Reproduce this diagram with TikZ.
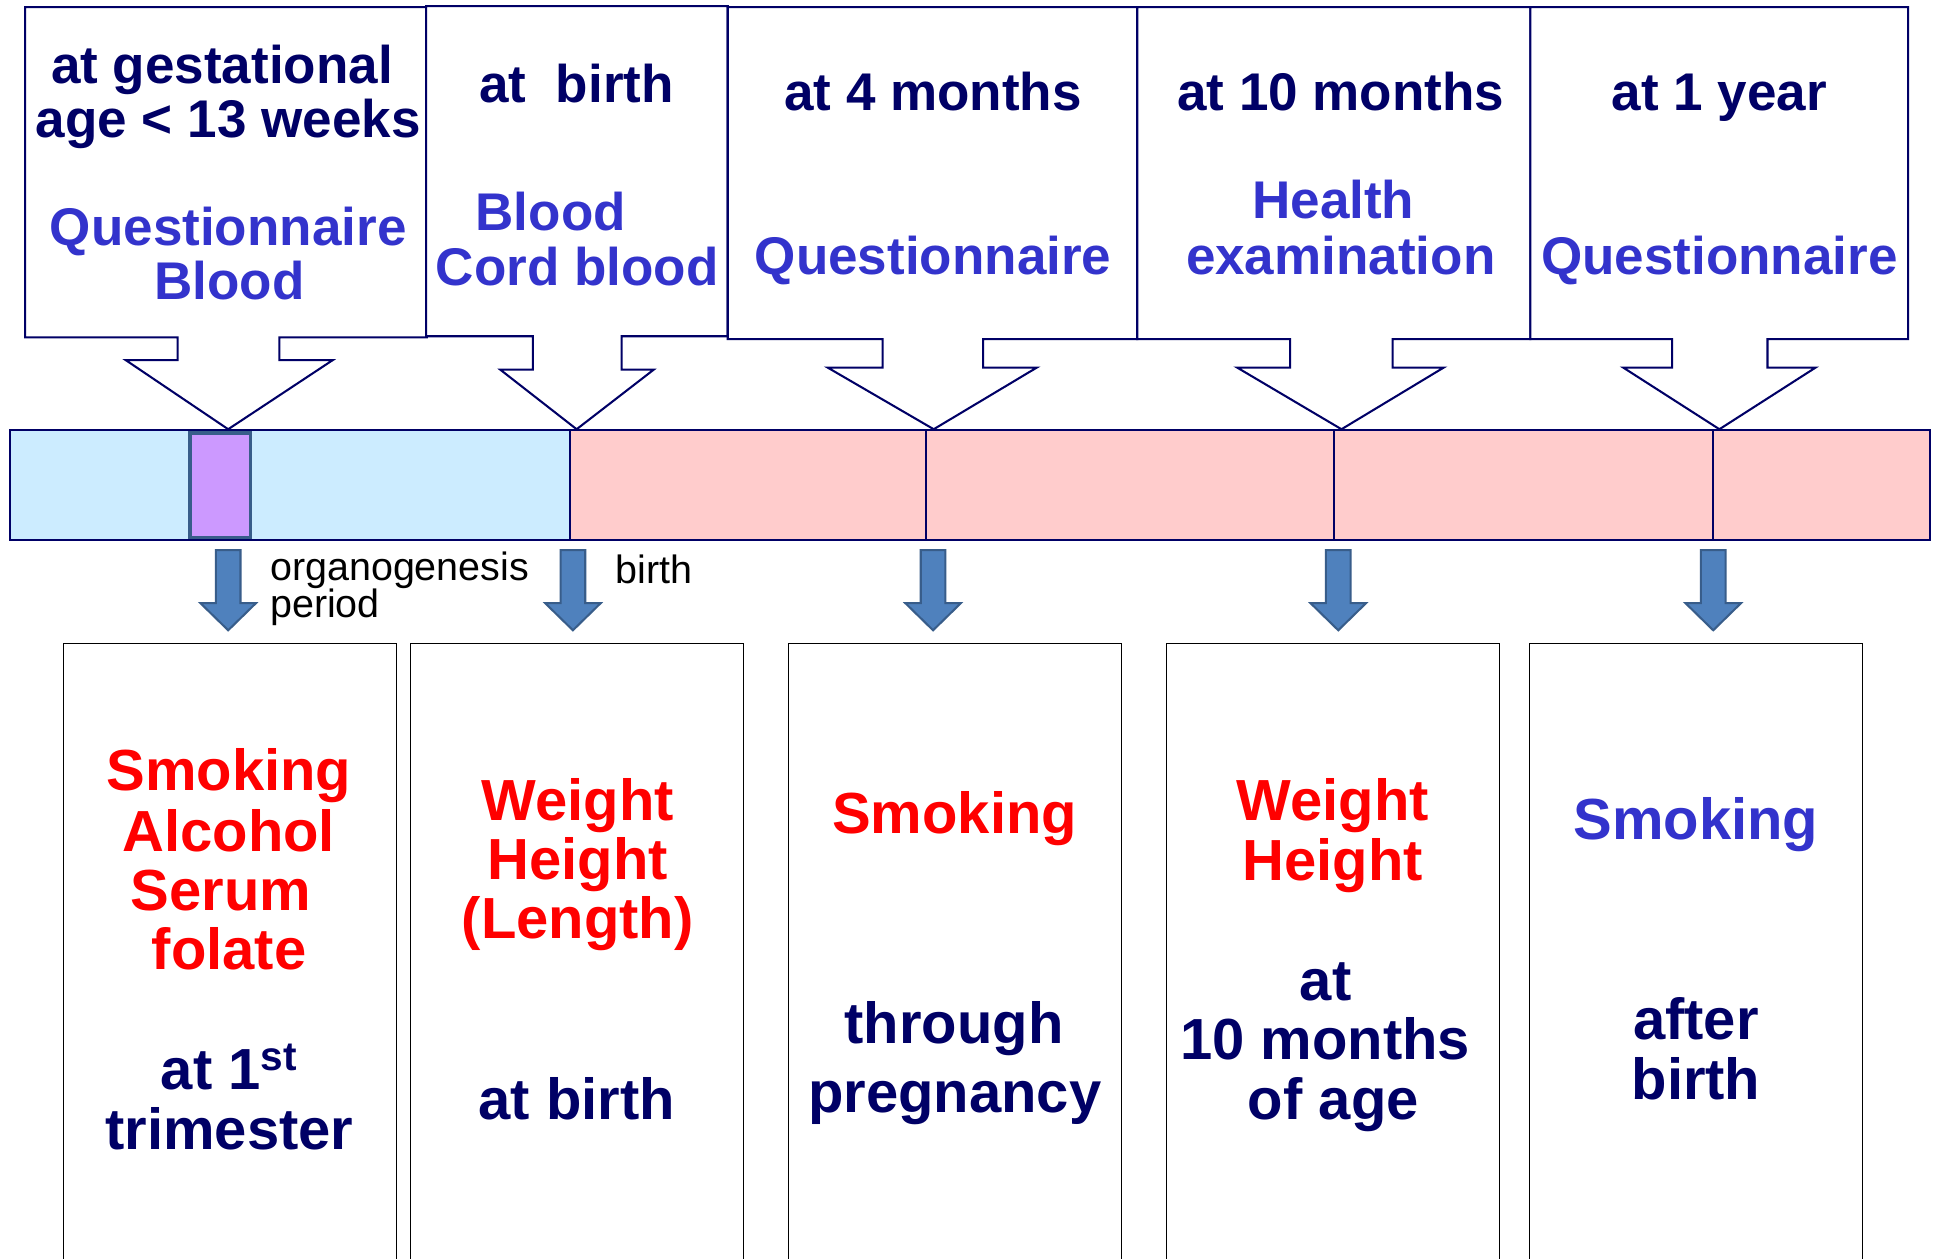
\documentclass[tikz,border=0pt]{standalone}
\usepackage{fontspec}
\setmainfont{Liberation Sans}
\definecolor{txtnavy}{HTML}{000066}
\definecolor{qblue}{HTML}{3333CC}
\definecolor{prenatal}{HTML}{CCECFF}
\definecolor{postnatal}{HTML}{FFCCCC}
\definecolor{organfill}{HTML}{CC99FF}
\definecolor{arrfill}{HTML}{4F81BD}
\definecolor{arrline}{HTML}{385D8A}
\begin{document}
\begin{tikzpicture}[x=0.6pt,y=-0.6pt,
  callout/.style={draw=txtnavy, fill=white, line width=1pt, line join=miter},
  barseg/.style={draw=txtnavy, line width=1pt},
  organbox/.style={draw=arrline, fill=organfill, line width=1.6pt},
  toptxt/.style={font=\bfseries\fontsize{25.8}{26.4}\selectfont, text=txtnavy, anchor=base, inner sep=0pt},
  topblue/.style={toptxt, text=qblue},
  bottxt/.style={font=\bfseries\fontsize{28.2}{28.8}\selectfont, text=txtnavy, anchor=base, inner sep=0pt},
  botred/.style={bottxt, text=red},
  botblue/.style={bottxt, text=qblue},
  smalltxt/.style={font=\fontsize{19.2}{19.8}\selectfont, text=black, anchor=base west, inner sep=0pt},
  outbox/.style={draw=black, line width=0.6pt, rectangle, minimum width=162pt, minimum height=317pt, inner sep=0pt, anchor=north},
  barrow/.style={fill=arrfill, draw=arrline, line width=1pt, line join=miter},
  blockarr/.pic={\draw[barrow] (-10,0) -- (10,0) -- (10,43) -- (22.5,43) -- (0,65) -- (-22.5,43) -- (-10,43) -- cycle;}
]
\useasboundingbox (0,0) rectangle (1568,1020);
\clip (0,0) rectangle (1568,1020);
\fill[white] (0,0) rectangle (1568,1020);

% ---- timeline bar ----
\draw[barseg, fill=prenatal] (8.4,349) rectangle (462,438);
\draw[barseg, fill=postnatal] (462,349) rectangle (1565,438);
\draw[barseg] (750.7,349) -- (750.7,438);
\draw[barseg] (1081.6,349) -- (1081.6,438);
\draw[barseg] (1388.7,349) -- (1388.7,438);
\draw[organbox] (154,351) rectangle (203,436);
\coordinate (tip1) at (185,348);
\coordinate (tip2) at (467.5,348);
\coordinate (tip3) at (757,348);
\coordinate (tip4) at (1087.6,348);
\coordinate (tip5) at (1394,348);

% ---- callouts ----
\draw[callout] (20.3,5.8) -- (346,5.8) -- (346,273.6) -- (226.5,273.6) -- (226.5,292) -- (269.7,292) -- (tip1) -- (102,292) -- (144,292) -- (144,273.6) -- (20.3,273.6) -- cycle;
\draw[callout] (345.5,4.9) -- (590,4.9) -- (590,272.6) -- (504,272.6) -- (504,299.7) -- (530,299.7) -- (tip2) -- (405.6,299.7) -- (432,299.7) -- (432,272.6) -- (345.5,272.6) -- cycle;
\draw[callout] (590,5.8) -- (922,5.8) -- (922,275) -- (797,275) -- (797,298) -- (840.6,298) -- (tip3) -- (671,298) -- (715.6,298) -- (715.6,275) -- (590,275) -- cycle;
\draw[callout] (922,5.8) -- (1240.7,5.8) -- (1240.7,275) -- (1129,275) -- (1129,298) -- (1170.5,298) -- (tip4) -- (1003,298) -- (1046,298) -- (1046,275) -- (922,275) -- cycle;
\draw[callout] (1240.7,5.8) -- (1547,5.8) -- (1547,275) -- (1433,275) -- (1433,298) -- (1472,298) -- (tip5) -- (1316,298) -- (1355.6,298) -- (1355.6,275) -- (1240.7,275) -- cycle;

% ---- callout texts ----
\node[toptxt] (t1a) at (180,67.5) {at gestational};
\node[toptxt] (t1b) at (185,111.5) {age < 13 weeks};
\node[topblue] (t1c) at (185,199) {Questionnaire};
\node[topblue] (t1d) at (186,243) {Blood};
\node[toptxt] (t2a) at (467.5,83.4) {at\ \ birth};
\node[topblue] (t2b) at (446.5,186.8) {Blood};
\node[topblue] (t2c) at (468,231.6) {Cord blood};
\node[toptxt] (t3a) at (756.5,89.8) {at 4 months};
\node[topblue] (t3b) at (756.5,222.4) {Questionnaire};
\node[toptxt] (t4a) at (1087,89.8) {at 10 months};
\node[topblue] (t4b) at (1081,177.2) {Health};
\node[topblue] (t4c) at (1087,222.4) {examination};
\node[toptxt] (t5a) at (1394,89.8) {at 1 year};
\node[topblue] (t5b) at (1394,222.4) {Questionnaire};

% ---- small labels ----
\node[smalltxt] (organ1) at (218.7,470.5) {organogenesis};
\node[smalltxt] (organ2) at (218.7,500.9) {period};
\node[smalltxt] (birthlbl) at (499,473) {birth};

% ---- bottom boxes ----
\node[outbox] (boxA) at (186.2,521) {};
\node[outbox] (boxB) at (468,521) {};
\node[outbox] (boxC) at (774.5,521) {};
\node[outbox] (boxD) at (1080.9,521) {};
\node[outbox] (boxE) at (1375,521) {};

% ---- block arrows ----
\pic at (185,446) {blockarr};
\pic at (464.5,446) {blockarr};
\pic at (756.5,446) {blockarr};
\pic at (1085,446) {blockarr};
\pic at (1389,446) {blockarr};

% ---- bottom texts ----
\node[botred] (a1) at (185.5,641.2) {Smoking};
\node[botred] (a2) at (185.5,690.3) {Alcohol};
\node[botred] (a3) at (179,737.8) {Serum};
\node[botred] (a4) at (185.7,786) {folate};
\node[bottxt] (a5) at (186,883.3) {at 1\textsuperscript{st}};
\node[bottxt] (a6) at (186,931.6) {trimester};

\node[botred] (b1) at (468.4,665) {Weight};
\node[botred] (b2) at (468.4,713.3) {Height};
\node[botred] (b3) at (468.4,760.8) {(Length)};
\node[bottxt] (b4) at (467.7,907.4) {at birth};

\node[botred] (c1) at (774,675.4) {Smoking};
\node[bottxt] (c2) at (773.5,846.2) {through};
\node[bottxt] (c3) at (774,901.8) {pregnancy};

\node[botred] (d1) at (1080.5,665) {Weight};
\node[botred] (d2) at (1080.5,714) {Height};
\node[bottxt] (d3) at (1074.8,811) {at};
\node[bottxt] (d4) at (1074.5,859.2) {10 months};
\node[bottxt] (d5) at (1081,907.4) {of age};

\node[botblue] (e1) at (1375,681) {Smoking};
\node[bottxt] (e2) at (1375,842.4) {after};
\node[bottxt] (e3) at (1375,891.4) {birth};
\end{tikzpicture}
\end{document}
